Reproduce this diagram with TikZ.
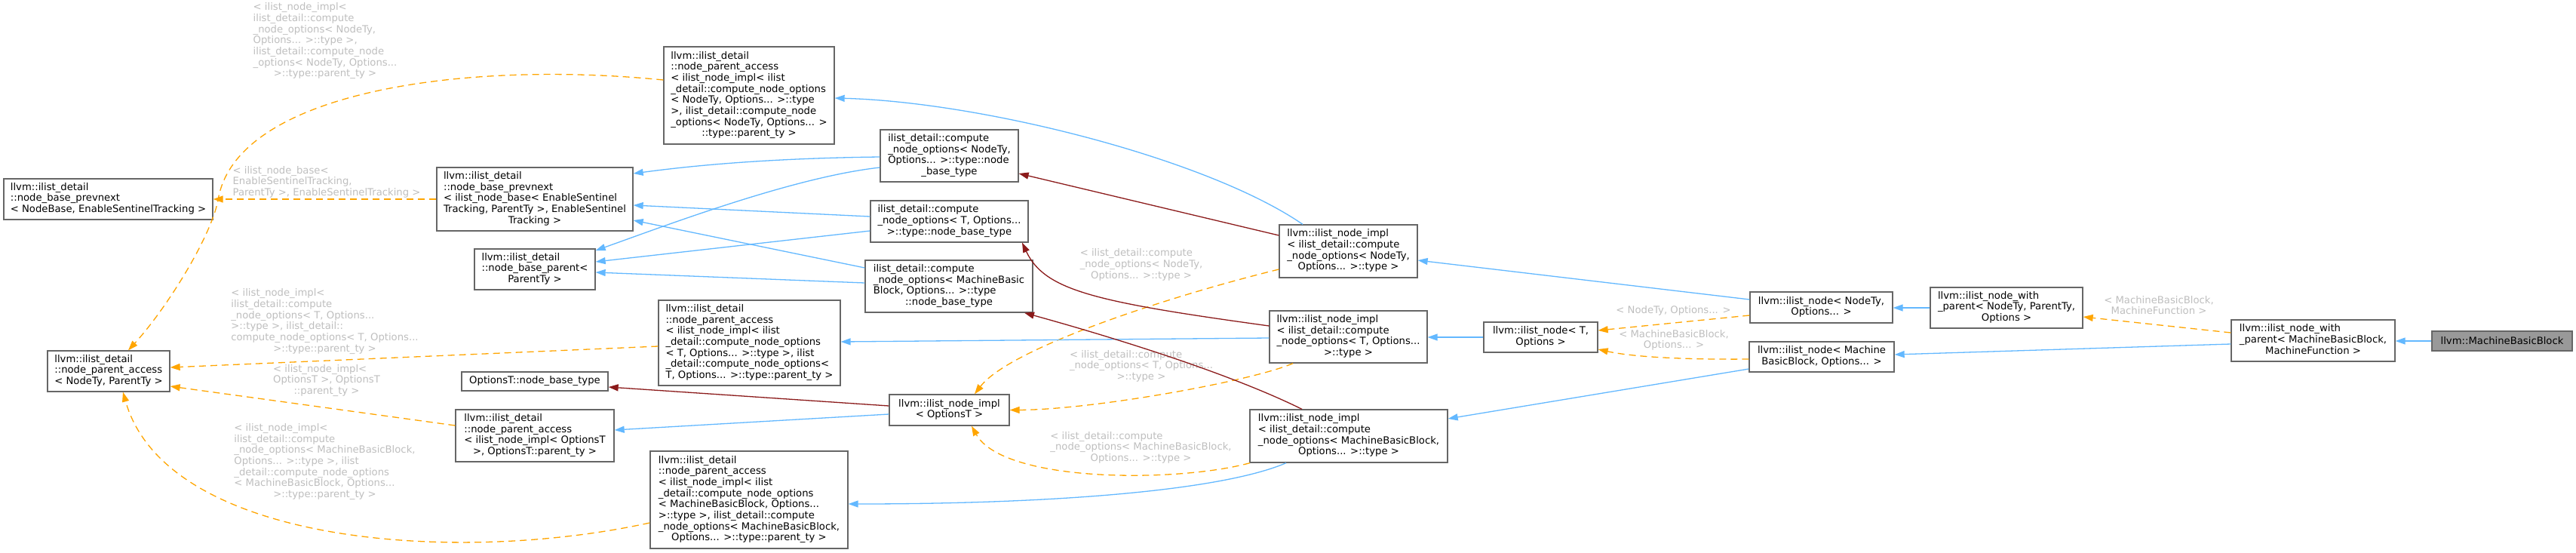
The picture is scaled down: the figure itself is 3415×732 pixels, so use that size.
\documentclass[tikz,border=0pt]{standalone}
\usepackage{fontspec}
\setmainfont{DejaVu Sans}
\usetikzlibrary{arrows.meta}
\definecolor{eblue}{HTML}{63B8FF}
\definecolor{ered}{HTML}{8B1A1A}
\definecolor{eorange}{HTML}{FFA500}
\definecolor{boxgray}{HTML}{666666}
\definecolor{lblgray}{HTML}{BEBEBE}
\definecolor{selfill}{HTML}{999999}
\newcommand{\mlines}[1]{\begin{tabular}{@{}l@{}}#1\end{tabular}}
\newcommand{\lastc}[1]{\multicolumn{1}{@{}c@{}}{#1}}
\newcommand{\nf}{\fontsize{13.2}{14.67}\selectfont}
\begin{document}
\begin{tikzpicture}[x=1pt,y=-1pt,
  box/.style={draw=boxgray,line width=1.3pt,fill=white,inner sep=0pt,font=\nf},
  lbl/.style={text=lblgray,inner sep=0pt,font=\nf},
  conn/.style={line width=1.3pt,-{Triangle[length=13pt,width=9pt]}},
  pub/.style={conn,draw=eblue},
  priv/.style={conn,draw=ered},
  tmpl/.style={conn,draw=eorange,dash pattern=on 9pt off 6pt}]
\useasboundingbox (0,0) rectangle (3415,732);

% nodes
\node[box,minimum width=277pt,minimum height=54pt] (N1) at (143.5,264) {\mlines{llvm::ilist\_detail\\::node\_base\_prevnext\\\lastc{< NodeBase, EnableSentinelTracking >}}};
\node[box,minimum width=162pt,minimum height=54pt] (N2) at (144,492) {\mlines{llvm::ilist\_detail\\::node\_parent\_access\\\lastc{< NodeTy, ParentTy >}}};
\node[box,minimum width=226pt,minimum height=129pt] (N3) at (993,126.5) {\mlines{llvm::ilist\_detail\\::node\_parent\_access\\< ilist\_node\_impl< ilist\\\_detail::compute\_node\_options\\< NodeTy, Options... >::type\\ >, ilist\_detail::compute\_node\\\_options< NodeTy, Options... >\\\lastc{::type::parent\_ty >}}};
\node[box,minimum width=260pt,minimum height=84pt] (N4) at (709,264) {\mlines{llvm::ilist\_detail\\::node\_base\_prevnext\\< ilist\_node\_base< EnableSentinel\\Tracking, ParentTy >, EnableSentinel\\\lastc{Tracking >}}};
\node[box,minimum width=160pt,minimum height=54pt] (N5) at (709,357) {\mlines{llvm::ilist\_detail\\::node\_base\_parent<\\\lastc{ParentTy >}}};
\node[box,minimum width=241pt,minimum height=113pt] (N6) at (993.5,454.5) {\mlines{llvm::ilist\_detail\\::node\_parent\_access\\< ilist\_node\_impl< ilist\\\_detail::compute\_node\_options\\< T, Options... >::type >, ilist\\\_detail::compute\_node\_options<\\\lastc{T, Options... >::type::parent\_ty >}}};
\node[box,minimum width=194pt,minimum height=25pt] (N7) at (709,505.5) {OptionsT::node\_base\_type};
\node[box,minimum width=210pt,minimum height=69pt] (N8) at (709,577.5) {\mlines{llvm::ilist\_detail\\::node\_parent\_access\\< ilist\_node\_impl< OptionsT\\\lastc{>, OptionsT::parent\_ty >}}};
\node[box,minimum width=262pt,minimum height=129pt] (N9) at (993,662.5) {\mlines{llvm::ilist\_detail\\::node\_parent\_access\\< ilist\_node\_impl< ilist\\\_detail::compute\_node\_options\\< MachineBasicBlock, Options...\\ >::type >, ilist\_detail::compute\\\_node\_options< MachineBasicBlock,\\\lastc{Options... >::type::parent\_ty >}}};
\node[box,minimum width=183pt,minimum height=69pt] (N10) at (1258.5,206.5) {\mlines{ilist\_detail::compute\\\_node\_options< NodeTy,\\Options... >::type::node\\\lastc{\_base\_type}}};
\node[box,minimum width=209pt,minimum height=55pt] (N11) at (1258.5,293.5) {\mlines{ilist\_detail::compute\\\_node\_options< T, Options...\\\lastc{>::type::node\_base\_type}}};
\node[box,minimum width=222pt,minimum height=69pt] (N12) at (1258,379.5) {\mlines{ilist\_detail::compute\\\_node\_options< MachineBasic\\Block, Options... >::type\\\lastc{::node\_base\_type}}};
\node[box,minimum width=159pt,minimum height=41pt] (N13) at (1258.5,543.5) {\mlines{llvm::ilist\_node\_impl\\\lastc{< OptionsT >}}};
\node[box,minimum width=183pt,minimum height=70pt] (N14) at (1787.5,333) {\mlines{llvm::ilist\_node\_impl\\< ilist\_detail::compute\\\_node\_options< NodeTy,\\\lastc{Options... >::type >}}};
\node[box,minimum width=209pt,minimum height=69pt] (N15) at (1787.5,446.5) {\mlines{llvm::ilist\_node\_impl\\< ilist\_detail::compute\\\_node\_options< T, Options...\\\lastc{>::type >}}};
\node[box,minimum width=262pt,minimum height=70pt] (N16) at (1788,578) {\mlines{llvm::ilist\_node\_impl\\< ilist\_detail::compute\\\_node\_options< MachineBasicBlock,\\\lastc{Options... >::type >}}};
\node[box,minimum width=151pt,minimum height=40pt] (N17) at (2042.5,447) {\mlines{llvm::ilist\_node< T,\\\lastc{Options >}}};
\node[box,minimum width=189pt,minimum height=41pt] (N18) at (2414.5,407.5) {\mlines{llvm::ilist\_node< NodeTy,\\\lastc{Options... >}}};
\node[box,minimum width=202pt,minimum height=54pt] (N19) at (2660,408) {\mlines{llvm::ilist\_node\_with\\\_parent< NodeTy, ParentTy,\\\lastc{Options >}}};
\node[box,minimum width=192pt,minimum height=40pt] (N20) at (2415,473) {\mlines{llvm::ilist\_node< Machine\\\lastc{BasicBlock, Options... >}}};
\node[box,minimum width=217pt,minimum height=55pt] (N21) at (3066.5,451.5) {\mlines{llvm::ilist\_node\_with\\\_parent< MachineBasicBlock,\\\lastc{MachineFunction >}}};
\node[box,fill=selfill,minimum width=186pt,minimum height=26pt] (N22) at (3317,452) {llvm::MachineBasicBlock};

% edge labels
\node[lbl] (LT) at (431,55) {\mlines{< ilist\_node\_impl<\\ilist\_detail::compute\\\_node\_options< NodeTy,\\Options... >::type >,\\ilist\_detail::compute\_node\\\_options< NodeTy, Options...\\\lastc{>::type::parent\_ty >}}};
\node[lbl] (LP) at (433,242) {\mlines{< ilist\_node\_base<\\EnableSentinelTracking,\\\lastc{ParentTy >, EnableSentinelTracking >}}};
\node[lbl] (LA) at (430.5,426.5) {\mlines{< ilist\_node\_impl<\\ilist\_detail::compute\\\_node\_options< T, Options...\\>::type >, ilist\_detail::\\compute\_node\_options< T, Options...\\\lastc{>::type::parent\_ty >}}};
\node[lbl] (LB) at (433,505) {\mlines{< ilist\_node\_impl<\\OptionsT >, OptionsT\\\lastc{::parent\_ty >}}};
\node[lbl] (LC) at (430.5,612.5) {\mlines{< ilist\_node\_impl<\\ilist\_detail::compute\\\_node\_options< MachineBasicBlock,\\Options... >::type >, ilist\\\_detail::compute\_node\_options\\< MachineBasicBlock, Options...\\\lastc{>::type::parent\_ty >}}};
\node[lbl] (LD) at (1513,351.5) {\mlines{< ilist\_detail::compute\\\_node\_options< NodeTy,\\\lastc{Options... >::type >}}};
\node[lbl] (LE) at (1513,486) {\mlines{< ilist\_detail::compute\\\_node\_options< T, Options...\\\lastc{>::type >}}};
\node[lbl] (LF) at (1512.5,594) {\mlines{< ilist\_detail::compute\\\_node\_options< MachineBasicBlock,\\\lastc{Options... >::type >}}};
\node[lbl] (LG) at (2218.5,412) {< NodeTy, Options... >};
\node[lbl] (LH) at (2219,451.5) {\mlines{< MachineBasicBlock,\\\lastc{Options... >}}};
\node[lbl] (LM) at (2862,406.5) {\mlines{< MachineBasicBlock,\\\lastc{MachineFunction >}}};

% edges
\draw[pub] (N22.west) -- (N22.west -| N21.east);
\draw[tmpl] ([yshift=10.5pt]N21.west) -- ([yshift=-12pt]N19.east);
\draw[pub] ([yshift=-4.5pt]N21.west) -- ([yshift=3pt]N20.east);
\draw[pub] (N19.west) -- (N19.west -| N18.east);
\draw[pub] ([yshift=10.5pt]N18.west) -- ([yshift=-12pt]N14.east);
\draw[tmpl] ([yshift=-10.5pt]N18.west) -- ([yshift=9pt]N17.east);
\draw[tmpl] ([yshift=-3pt]N20.west) .. controls (2200,477) and (2150,470) .. ([yshift=-16pt]N17.east);
\draw[pub] ([yshift=-16pt]N20.west) -- ([yshift=23pt]N16.east);
\draw[pub] (N17.west) -- (N17.west -| N15.east);
\draw[pub] ([xshift=-60.5pt]N14.north) .. controls (1600,210) and (1300,135) .. ([yshift=-3.5pt]N3.east);
\draw[priv] ([yshift=21pt]N14.west) -- ([yshift=-23.5pt]N10.east);
\draw[tmpl] ([yshift=-24pt]N14.west) .. controls (1560,390) and (1340,460) .. ([xshift=33.5pt]N13.north);
\draw[pub] ([yshift=-1.5pt]N15.west) -- ([yshift=1.5pt]N6.east);
\draw[priv] ([yshift=14.5pt]N15.west) .. controls (1450,400) and (1385,385) .. ([xshift=96.5pt]N11.south);
\draw[tmpl] ([xshift=-73.5pt]N15.south) .. controls (1660,505) and (1450,543) .. (N13.east);
\draw[pub] ([xshift=-83pt]N16.south) .. controls (1620,650) and (1400,668) .. ([yshift=-5.5pt]N9.east);
\draw[priv] ([xshift=-62pt]N16.north) .. controls (1620,490) and (1450,440) .. ([xshift=100pt]N12.south);
\draw[tmpl] ([xshift=-131pt]N16.south) .. controls (1560,640) and (1330,640) .. ([xshift=29.5pt]N13.south);
\draw[priv] ([yshift=5.5pt]N13.west) -- ([yshift=-7.5pt]N7.east);
\draw[pub] ([yshift=-5.5pt]N13.west) -- ([yshift=7.5pt]N8.east);
\draw[pub] ([yshift=-1.5pt]N10.west) .. controls (1000,210) and (900,222) .. ([yshift=34pt]N4.east);
\draw[pub] ([yshift=-15.5pt]N10.west) .. controls (1050,235) and (880,300) .. ([yshift=25pt]N5.east);
\draw[pub] ([yshift=6.5pt]N11.west) -- ([yshift=-8pt]N4.east);
\draw[pub] ([yshift=-12.5pt]N11.west) -- ([yshift=10pt]N5.east);
\draw[pub] ([yshift=24.5pt]N12.west) -- ([yshift=-28pt]N4.east);
\draw[pub] ([yshift=4.5pt]N12.west) -- ([yshift=-4pt]N5.east);
\draw[tmpl] (N4.west) -- (N1.east);
\draw[tmpl] ([yshift=20.5pt]N3.west) .. controls (620,80) and (320,120) .. (290,260) .. controls (283,310) and (220,410) .. ([xshift=26pt]N2.north);
\draw[tmpl] ([yshift=-4.5pt]N6.west) -- ([yshift=5pt]N2.east);
\draw[tmpl] ([yshift=13.5pt]N8.west) -- ([yshift=-20pt]N2.east);
\draw[tmpl] ([yshift=-30.5pt]N9.west) .. controls (600,750) and (220,720) .. ([xshift=19pt]N2.south);
\end{tikzpicture}
\end{document}
